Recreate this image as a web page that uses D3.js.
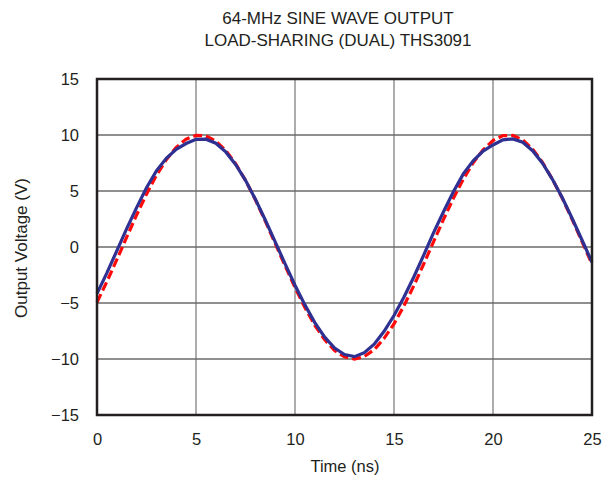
<!DOCTYPE html>
<html><head><meta charset="utf-8">
<script src="https://cdn.jsdelivr.net/npm/d3@7"></script>
<style>body{margin:0;background:#fff}svg{display:block}text{font-family:"Liberation Sans",Arial,sans-serif;fill:#231f20}</style>
</head><body><div id="chart"></div>
<script>
const titleLines = ["64-MHz SINE WAVE OUTPUT", "LOAD-SHARING (DUAL) THS3091"];
const xLabel = "Time (ns)";
const yLabel = "Output Voltage (V)";
const xTicks = [0, 5, 10, 15, 20, 25];
const yTicks = [-15, -10, -5, 0, 5, 10, 15];
const timeNs = [0,0.5,1,1.5,2,2.5,3,3.5,4,4.5,5,5.5,6,6.5,7,7.5,8,8.5,9,9.5,10,10.5,11,11.5,12,12.5,13,13.5,14,14.5,15,15.5,16,16.5,17,17.5,18,18.5,19,19.5,20,20.5,21,21.5,22,22.5,23,23.5,24,24.5,25];
const redDashed = [-4.93,-3.09,-1.13,0.88,2.86,4.72,6.39,7.80,8.89,9.63,9.97,9.92,9.46,8.62,7.44,5.95,4.22,2.32,0.32,-1.68,-3.62,-5.41,-6.99,-8.28,-9.24,-9.81,-10.0,-9.78,-9.17,-8.16,-6.87,-5.26,-3.46,-1.52,0.48,2.47,4.35,6.06,7.52,8.68,9.51,9.94,9.96,9.57,8.74,7.56,6.06,4.35,2.46,0.47,-1.53];
const blueSolid = [-4.16,-2.31,-0.34,1.64,3.52,5.29,6.80,7.92,8.72,9.24,9.61,9.63,9.27,8.49,7.37,5.95,4.27,2.41,0.46,-1.50,-3.41,-5.17,-6.75,-8.05,-9.02,-9.60,-9.79,-9.43,-8.68,-7.53,-6.12,-4.49,-2.68,-0.73,1.28,3.15,4.93,6.53,7.70,8.57,9.11,9.57,9.65,9.36,8.60,7.48,6.04,4.39,2.54,0.60,-1.36];

const W = 603, H = 482;
const m = {left: 97, right: 11, top: 79, bottom: 67};
const svg = d3.select("#chart").append("svg").attr("width", W).attr("height", H);
const x = d3.scaleLinear().domain([0, 25]).range([m.left, W - m.right]);
const y = d3.scaleLinear().domain([-15, 15]).range([H - m.bottom, m.top]);

// grid
svg.append("g").selectAll("line").data(xTicks.slice(1, -1)).join("line")
  .attr("x1", d => x(d)).attr("x2", d => x(d)).attr("y1", y(15)).attr("y2", y(-15))
  .attr("stroke", "#8a8a8a").attr("stroke-width", 1.4);
svg.append("g").selectAll("line").data(yTicks.slice(1, -1)).join("line")
  .attr("x1", x(0)).attr("x2", x(25)).attr("y1", d => y(d)).attr("y2", d => y(d))
  .attr("stroke", "#6a6a6a").attr("stroke-width", 1.4);

const fam = '"Liberation Sans", Arial, sans-serif';
const xAxis = svg.append("g").attr("transform", `translate(0,${y(-15)})`)
  .call(d3.axisBottom(x).tickValues(xTicks).tickSize(0).tickPadding(18).tickFormat(d => d));
const yAxis = svg.append("g").attr("transform", `translate(${x(0)},0)`)
  .call(d3.axisLeft(y).tickValues(yTicks).tickSize(0).tickPadding(18).tickFormat(d => d < 0 ? "\u2212" + Math.abs(d) : d));
[xAxis, yAxis].forEach(a => {
  a.select(".domain").remove();
  a.selectAll("text").attr("font-size", 16.5).attr("fill", "#231f20").attr("font-family", fam);
});

// lines
const line = arr => d3.line().x((d, i) => x(timeNs[i])).y(d => y(d))(arr);
const plot = svg.append("g");
plot.append("path").attr("d", line(redDashed)).attr("fill", "none")
  .attr("stroke", "#ff0a0a").attr("stroke-width", 3.2).attr("stroke-dasharray", "9,4");
plot.append("path").attr("d", line(blueSolid)).attr("fill", "none")
  .attr("stroke", "#2e3192").attr("stroke-width", 3.2);

// frame
svg.append("rect").attr("x", x(0)).attr("y", y(15)).attr("width", x(25) - x(0)).attr("height", y(-15) - y(15))
  .attr("fill", "none").attr("stroke", "#231f20").attr("stroke-width", 2.5);

// titles
svg.append("g").selectAll("text").data(titleLines).join("text")
  .attr("x", 338).attr("y", (d, i) => 23.5 + i * 22.5).attr("text-anchor", "middle").attr("font-size", 17).text(d => d);
svg.append("text").attr("x", 345).attr("y", 472).attr("text-anchor", "middle").attr("font-size", 16.5).text(xLabel);
svg.append("text").attr("transform", `translate(27,248) rotate(-90)`)
  .attr("text-anchor", "middle").attr("font-size", 17).text(yLabel);
</script></body></html>
